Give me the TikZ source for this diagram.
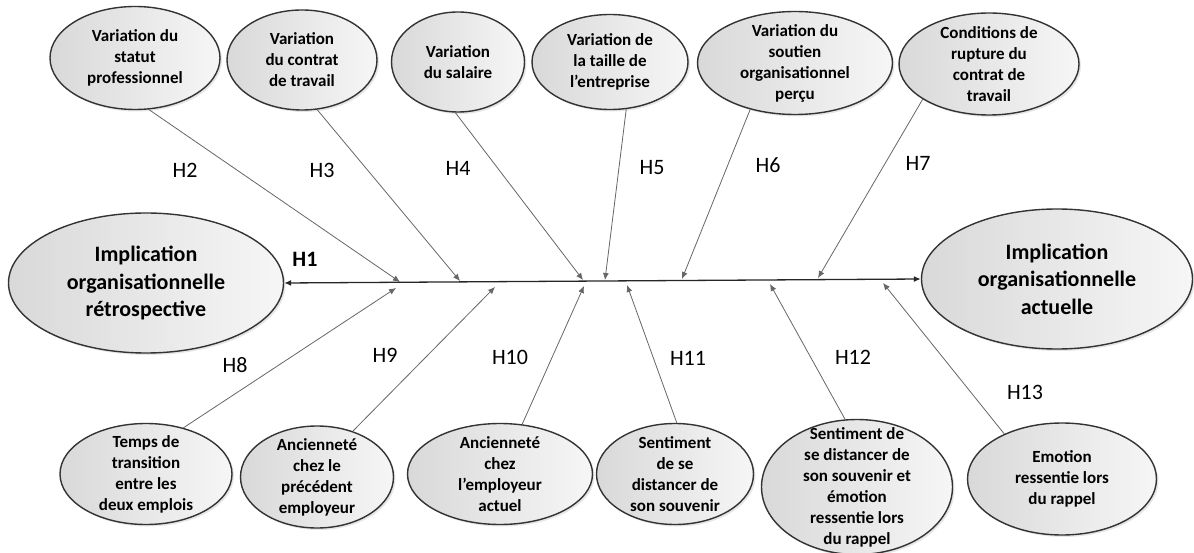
\documentclass[tikz,border=0pt]{standalone}
\usepackage{fontspec}
\setmainfont{Carlito}
\usetikzlibrary{shapes.geometric,shadows,arrows.meta}

\begin{document}
\begin{tikzpicture}[x=1pt, y=-1pt,
    cause/.style={ellipse, draw=black!80, line width=1.4pt, left color=gray!30, right color=gray!7,
        inner xsep=0pt, inner ysep=-10pt, align=center, font=\bfseries\fontsize{17}{21}\selectfont,
        drop shadow={shadow xshift=2pt, shadow yshift=-2pt, opacity=0.2}},
    effect/.style={cause, inner ysep=0pt, font=\bfseries\fontsize{22}{27.5}\selectfont},
    link/.style={draw=black!60, line width=0.8pt, -{Latex[length=7pt,width=6pt]}},
    mainline/.style={draw=black!85, line width=1.3pt, {Latex[length=7pt,width=6pt]}-{Latex[length=7pt,width=6pt]}},
    hyp/.style={font=\fontsize{22}{26}\selectfont}]
    \useasboundingbox (0,0) rectangle (1194,553);

    % Outcomes
    \node[effect, minimum width=275pt, minimum height=140pt] (retro) at (146,283)
        {Implication\\organisationnelle\\rétrospective};
    \node[effect, minimum width=271pt, minimum height=140pt] (actuelle) at (1057,279)
        {Implication\\organisationnelle\\actuelle};
    \draw[mainline] (retro.east) -- (actuelle.west);
    \node[hyp, font=\bfseries\fontsize{22}{26}\selectfont] (h1) at (305,259) {H1};

    % Upper causes
    \begin{scope}
        \node[cause, minimum width=170pt, minimum height=103pt] (statut) at (135,58)
            {Variation du\\statut\\professionnel};
        \node[cause, minimum width=150pt, minimum height=100pt] (contrat) at (302,60)
            {Variation\\du contrat\\de travail};
        \node[cause, minimum width=133pt, minimum height=100pt] (salaire) at (458,62)
            {Variation\\du salaire};
        \node[cause, minimum width=156pt, minimum height=95pt] (taille) at (610,62)
            {Variation de\\la taille de\\l’entreprise};
        \node[cause, minimum width=195pt, minimum height=103pt] (soutien) at (795,63)
            {Variation du\\soutien\\organisationnel\\perçu};
        \node[cause, minimum width=180pt, minimum height=102pt] (rupture) at (989,64)
            {Conditions de\\rupture du\\contrat de\\travail};

        \coordinate (p2) at (400,282);
        \coordinate (p3) at (460,281);
        \coordinate (p4) at (583,280);
        \coordinate (p5) at (605,280);
        \coordinate (p6) at (682,279);
        \coordinate (p7) at (818,278);

        \draw[link] (statut.-75) -- (p2);
        \draw[link] (contrat.-73) -- (p3);
        \draw[link] (salaire.-93) -- (p4);
        \draw[link] (taille.-71) -- (p5);
        \draw[link] (soutien.-134) -- (p6);
        \draw[link] (rupture.-152) -- (p7);

        \node[hyp] (h2) at (185,170) {H2};
        \node[hyp] (h3) at (322,170) {H3};
        \node[hyp] (h4) at (458,168) {H4};
        \node[hyp] (h5) at (652,168) {H5};
        \node[hyp] (h6) at (768,165) {H6};
        \node[hyp] (h7) at (918,163) {H7};
    \end{scope}

    % Lower causes
    \begin{scope}
        \node[cause, minimum width=172pt, minimum height=101pt] (transition) at (146,474)
            {Temps de\\transition\\entre les\\deux emplois};
        \node[cause, minimum width=153pt, minimum height=102pt] (precedent) at (317,477)
            {Ancienneté\\chez le\\précédent\\employeur};
        \node[cause, minimum width=185pt, minimum height=101pt] (actuel) at (500,474)
            {Ancienneté\\chez\\l’employeur\\actuel};
        \node[cause, minimum width=157pt, minimum height=101pt] (distance) at (675,474)
            {Sentiment\\de se\\distancer de\\son souvenir};
        \node[cause, inner ysep=-26pt, minimum width=191pt, minimum height=135pt] (distemo) at (857,487)
            {Sentiment de\\se distancer de\\son souvenir et\\émotion\\ressentie lors\\du rappel};
        \node[cause, minimum width=189pt, minimum height=112pt] (emotion) at (1062,479)
            {Emotion\\ressentie lors\\du rappel};

        \coordinate (q8) at (396,288);
        \coordinate (q9) at (495,287);
        \coordinate (q10) at (584,286);
        \coordinate (q11) at (627,285);
        \coordinate (q12) at (770,284);
        \coordinate (q13) at (883,283);

        \draw[link] (transition.51) -- (q8);
        \draw[link] (precedent.52) -- (q9);
        \draw[link] (actuel.66) -- (q10);
        \draw[link] (distance.88) -- (q11);
        \draw[link] (distemo.100) -- (q12);
        \draw[link] (emotion.142) -- (q13);

        \node[hyp] (h8) at (235,365) {H8};
        \node[hyp] (h9) at (385,355) {H9};
        \node[hyp] (h10) at (510,357) {H10};
        \node[hyp] (h11) at (688,358) {H11};
        \node[hyp] (h12) at (853,357) {H12};
        \node[hyp] (h13) at (1025,392) {H13};
    \end{scope}

\end{tikzpicture}
\end{document}
